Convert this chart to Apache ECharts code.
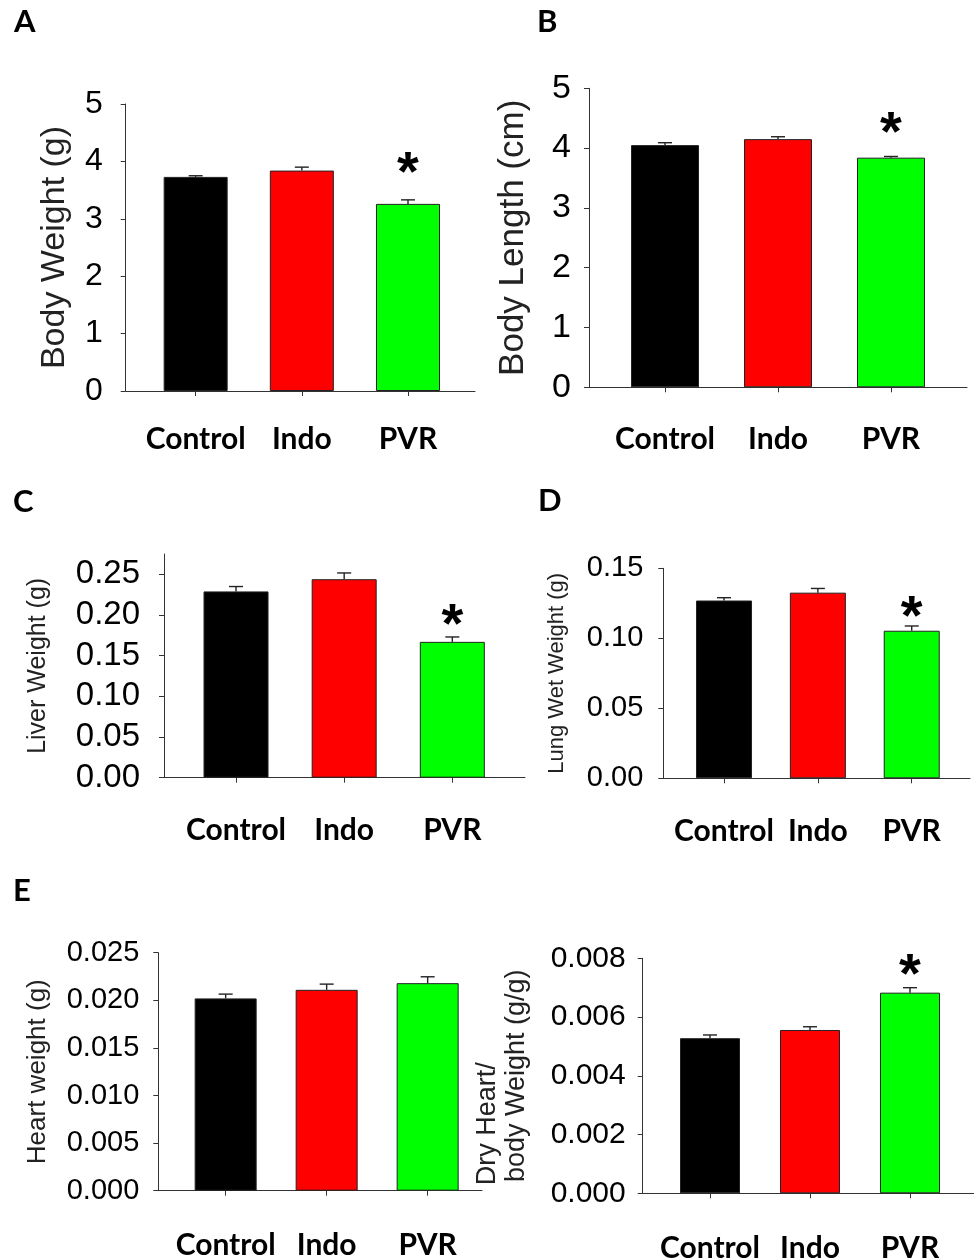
<!DOCTYPE html>
<html>
<head>
<meta charset="utf-8">
<script src="https://cdn.jsdelivr.net/npm/echarts@6/dist/echarts.min.js"></script>
<style>
html,body{margin:0;padding:0;background:#fff;}
#chart{width:974px;height:1259px;}
</style>
</head>
<body>
<div id="chart"></div>
<script>
// ---------------- data ----------------
const categories = ['Control', 'Indo', 'PVR'];
const xPositions = [1, 2, 3];
const barColors = ['#000000', '#ff0000', '#00ff00'];

const bodyWeight = [3.73, 3.84, 3.26];
const bodyWeightErr = [0.02, 0.06, 0.07];
const bodyWeightSig = ['', '', '*'];
const bodyWeightTicks = [0, 1, 2, 3, 4, 5];

const bodyLength = [4.05, 4.15, 3.84];
const bodyLengthErr = [0.04, 0.04, 0.02];
const bodyLengthSig = ['', '', '*'];
const bodyLengthTicks = [0, 1, 2, 3, 4, 5];

const liverWeight = [0.229, 0.244, 0.167];
const liverWeightErr = [0.006, 0.0077, 0.006];
const liverWeightSig = ['', '', '*'];
const liverWeightTicks = [0, 0.05, 0.10, 0.15, 0.20, 0.25];

const lungWetWeight = [0.127, 0.1326, 0.1054];
const lungWetWeightErr = [0.002, 0.003, 0.0034];
const lungWetWeightSig = ['', '', '*'];
const lungWetWeightTicks = [0, 0.05, 0.10, 0.15];

const heartWeight = [0.0202, 0.0211, 0.0218];
const heartWeightErr = [0.00045, 0.0006, 0.00067];
const heartWeightSig = ['', '', ''];
const heartWeightTicks = [0, 0.005, 0.010, 0.015, 0.020, 0.025];

const dryHeartRatio = [0.00528, 0.00556, 0.00683];
const dryHeartRatioErr = [0.00011, 0.00011, 0.00017];
const dryHeartRatioSig = ['', '', '*'];
const dryHeartRatioTicks = [0, 0.002, 0.004, 0.006, 0.008];

const panelLetters = ['A', 'B', 'C', 'D', 'E'];

// ---------------- layout / style ----------------
const panels = [
  {values: bodyWeight, errs: bodyWeightErr, sig: bodyWeightSig, ticks: bodyWeightTicks, dec: 0,
   name: 'Body Weight (g)', nameSize: 34, nameGap: 54,
   grid: [125.7, 104, 349.3, 287], xr: [0.341, 3.631], ymax: 5, barW: 64,
   tickSize: 32, tickMargin: 23, xMargin: 33, starOff: 39},
  {values: bodyLength, errs: bodyLengthErr, sig: bodyLengthSig, ticks: bodyLengthTicks, dec: 0,
   name: 'Body Length (cm)', nameSize: 35, nameGap: 58,
   grid: [589, 88.3, 378, 299], xr: [0.327, 3.673], ymax: 5, barW: 68,
   tickSize: 34, tickMargin: 18, xMargin: 37, starOff: 36},
  {values: liverWeight, errs: liverWeightErr, sig: liverWeightSig, ticks: liverWeightTicks, dec: 2,
   name: 'Liver Weight (g)', nameSize: 25, nameGap: 113,
   grid: [164, 554, 361, 223.7], xr: [0.334, 3.672], ymax: 0.275, barW: 65,
   tickSize: 33, tickMargin: 24, xMargin: 38, starOff: 24},
  {values: lungWetWeight, errs: lungWetWeightErr, sig: lungWetWeightSig, ticks: lungWetWeightTicks, dec: 2,
   name: 'Lung Wet Weight (g)', nameSize: 22, nameGap: 95,
   grid: [663.3, 568.3, 306.7, 210], xr: [0.353, 3.621], ymax: 0.15, barW: 56,
   tickSize: 29, tickMargin: 20, xMargin: 38, starOff: 21},
  {values: heartWeight, errs: heartWeightErr, sig: heartWeightSig, ticks: heartWeightTicks, dec: 3,
   name: 'Heart weight (g)', nameSize: 26, nameGap: 107,
   grid: [158.3, 952.7, 323.7, 238], xr: [0.333, 3.538], ymax: 0.025, barW: 62,
   tickSize: 29, tickMargin: 19, xMargin: 40, starOff: 25},
  {values: dryHeartRatio, errs: dryHeartRatioErr, sig: dryHeartRatioSig, ticks: dryHeartRatioTicks, dec: 3,
   name: '{a|Dry Heart/}{p| }\n{a|body Weight (g/g)}', nameSize: 27, nameGap: 112, twoLine: true,
   grid: [642.7, 958.3, 331.3, 235], xr: [0.327, 3.64], ymax: 0.008, barW: 60,
   tickSize: 30, tickMargin: 17, xMargin: 40, starOff: 25}
];

const letterPos = [[14, 6], [537, 6], [13, 486], [538, 485], [13, 875]];

const AXIS_COLOR = '#333';
const grids = [], xAxes = [], yAxes = [], series = [];

panels.forEach((p, i) => {
  grids.push({left: p.grid[0], top: p.grid[1], width: p.grid[2], height: p.grid[3],
    containLabel: false, outerBoundsMode: 'none'});
  xAxes.push({
    gridIndex: i, type: 'value', min: p.xr[0], max: p.xr[1],
    splitLine: {show: false},
    axisLine: {show: true, onZero: false, lineStyle: {color: AXIS_COLOR, width: 1}},
    axisTick: {show: true, customValues: xPositions, length: 5, lineStyle: {color: AXIS_COLOR}},
    axisLabel: {customValues: xPositions, formatter: v => categories[Math.round(v) - 1],
      fontFamily: 'Lato', fontWeight: 'bold', fontSize: 30, color: '#000', margin: p.xMargin}
  });
  const nameStyle = {fontFamily: 'Liberation Sans', fontSize: p.nameSize, color: '#222'};
  if (p.twoLine) {
    nameStyle.lineHeight = 28.5;
    nameStyle.rich = {
      a: {fontFamily: 'Liberation Sans', fontSize: p.nameSize, color: '#222', lineHeight: 28.5},
      p: {width: 96, fontSize: p.nameSize, lineHeight: 28.5}
    };
  }
  yAxes.push({
    gridIndex: i, type: 'value', min: 0, max: p.ymax,
    splitLine: {show: false},
    axisLine: {show: true, lineStyle: {color: AXIS_COLOR, width: 1}},
    axisTick: {show: true, customValues: p.ticks, length: 5, lineStyle: {color: AXIS_COLOR}},
    axisLabel: {customValues: p.ticks, formatter: v => v.toFixed(p.dec),
      fontFamily: 'Liberation Sans', fontSize: p.tickSize, color: '#000', margin: p.tickMargin},
    name: p.name, nameLocation: 'middle', nameGap: p.nameGap, nameTextStyle: nameStyle
  });
  series.push({
    type: 'bar', xAxisIndex: i, yAxisIndex: i, barWidth: p.barW, silent: true,
    data: p.values.map((v, k) => ({value: [xPositions[k], v],
      itemStyle: {color: barColors[k], borderColor: '#222', borderWidth: 1}}))
  });
  series.push({
    type: 'custom', xAxisIndex: i, yAxisIndex: i, silent: true, z: 5,
    data: p.values.map((v, k) => [xPositions[k], v, p.errs[k]]),
    renderItem: (params, api) => {
      const x = api.value(0), v = api.value(1), e = api.value(2);
      const p0 = api.coord([x, v]);
      const p1 = api.coord([x, v + e]);
      const cap = 7;
      const ls = {stroke: '#222', lineWidth: 1.4};
      const children = [
        {type: 'line', shape: {x1: p0[0], y1: p0[1], x2: p1[0], y2: p1[1]}, style: ls},
        {type: 'line', shape: {x1: p1[0] - cap, y1: p1[1], x2: p1[0] + cap, y2: p1[1]}, style: ls}
      ];
      const s = p.sig[params.dataIndex];
      if (s) {
        children.push({type: 'text', x: p1[0], y: p1[1] - p.starOff + 14,
          style: {text: s, fill: '#000', font: 'bold 56px "Liberation Sans"', align: 'center', verticalAlign: 'middle'}});
      }
      return {type: 'group', children: children};
    }
  });
});

const titles = panelLetters.map((t, i) => ({
  text: t, left: letterPos[i][0], top: letterPos[i][1], padding: 0,
  textStyle: {fontFamily: 'Lato', fontWeight: 'bold', fontSize: 31, color: '#000'}
}));

const chart = echarts.init(document.getElementById('chart'), null, {renderer: 'canvas'});
chart.setOption({
  animation: false,
  backgroundColor: '#fff',
  title: titles,
  grid: grids,
  xAxis: xAxes,
  yAxis: yAxes,
  series: series
});
</script>
</body>
</html>
